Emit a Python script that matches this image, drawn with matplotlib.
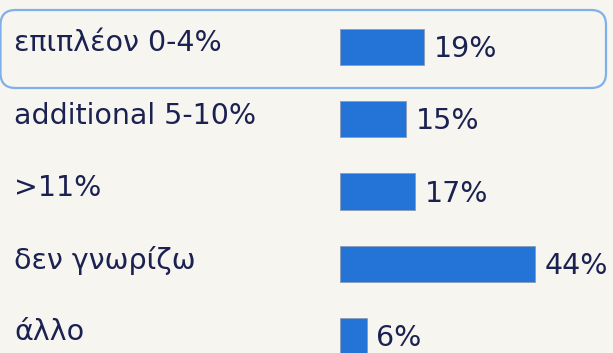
import matplotlib
matplotlib.use("Agg")
import matplotlib.pyplot as plt
from matplotlib.patches import FancyBboxPatch

categories = ["επιπλέον 0-4%", "additional 5-10%", ">11%", "δεν γνωρίζω", "άλλο"]
values = [19, 15, 17, 44, 6]
value_labels = ["19%", "15%", "17%", "44%", "6%"]

BG = "#F6F5F0"
BAR = "#2374D6"
TEXT = "#1B2150"
HILITE = "#7FB0EC"

W, H, DPI = 613, 353, 100
fig = plt.figure(figsize=(W / DPI, H / DPI), dpi=DPI, facecolor=BG)
ax = fig.add_axes([0, 0, 1, 1], facecolor=BG)

# scale: bars start at x=340 px, 4.43 px per percent; rows 72.25 px apart
px_per_pct = 4.43
x0_px = 340
ax.set_xlim(-x0_px / px_per_pct, (W - x0_px) / px_per_pct)
row_px = 72.25
first_px = 47
ax.set_ylim((H - first_px) / row_px, -first_px / row_px)
ax.axis("off")

ys = list(range(len(categories)))
ax.barh(ys, values, height=0.5, color=BAR, edgecolor="#8A9BB5", linewidth=0.6)

FS = 20.5
for y, cat, v, lab in zip(ys, categories, values, value_labels):
    ax.text(14 / W, y - 0.05, cat, transform=ax.get_yaxis_transform(),
            ha="left", va="center", fontsize=FS, color=TEXT,
            family="DejaVu Sans")
    ax.annotate(lab, xy=(v, y), xytext=(7, -1.5), textcoords="offset points",
                ha="left", va="center", fontsize=FS, color=TEXT,
                family="DejaVu Sans")

# highlight frame around the first row (inches, isotropic so corners stay round)
box = FancyBboxPatch((0.005, (H - 88) / DPI), 6.055, 0.78,
                     boxstyle="round,pad=0,rounding_size=0.15",
                     transform=fig.dpi_scale_trans, facecolor="none",
                     edgecolor=HILITE, linewidth=1.6, clip_on=False)
fig.patches.append(box)

fig.savefig("out.png", dpi=DPI, facecolor=BG)
